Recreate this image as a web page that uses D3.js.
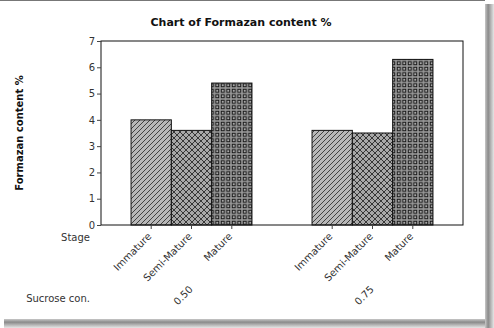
<!DOCTYPE html>
<html>
<head>
<meta charset="utf-8">
<script src="https://cdn.jsdelivr.net/npm/d3@7"></script>
<style>
body { margin: 0; background: #fff; }
text { font-family: "DejaVu Sans", Verdana, sans-serif; }
</style>
</head>
<body>
<svg id="chart" width="494" height="328"></svg>
<script>
'use strict';

// data
var concentrations = ["0.50", "0.75"];
var stages = ["Immature", "Semi-Mature", "Mature"];
var values050 = [4.0, 3.6, 5.4];
var values075 = [3.6, 3.5, 6.3];
var yTicks = [0, 1, 2, 3, 4, 5, 6, 7];

var rows = [];
concentrations.forEach(function(c, i) {
	var vals = i === 0 ? values050 : values075;
	stages.forEach(function(s, j) {
		rows.push({ conc: c, stage: s, value: vals[j] });
	});
});

var svg = d3.select("#chart");
var plotLeft = 101, plotRight = 463, plotTop = 41, plotBottom = 225;

// frame + drop shadow
var defs = svg.append("defs");
var gr = defs.append("linearGradient").attr("id", "shR").attr("x1", 0).attr("x2", 1).attr("y1", 0).attr("y2", 0);
gr.append("stop").attr("offset", "0%").attr("stop-color", "#c8c8c8");
gr.append("stop").attr("offset", "35%").attr("stop-color", "#8a8a8a");
gr.append("stop").attr("offset", "100%").attr("stop-color", "#e6e6e6");
var gb = defs.append("linearGradient").attr("id", "shB").attr("x1", 0).attr("x2", 0).attr("y1", 0).attr("y2", 1);
gb.append("stop").attr("offset", "0%").attr("stop-color", "#c8c8c8");
gb.append("stop").attr("offset", "35%").attr("stop-color", "#8a8a8a");
gb.append("stop").attr("offset", "100%").attr("stop-color", "#e6e6e6");

svg.append("rect").attr("x", 485).attr("y", 4).attr("width", 9).attr("height", 324).attr("fill", "url(#shR)");
svg.append("rect").attr("x", 4).attr("y", 319).attr("width", 481).attr("height", 9).attr("fill", "url(#shB)");
svg.append("line").attr("x1", 0).attr("x2", 485).attr("y1", 0.5).attr("y2", 0.5).attr("stroke", "#777");

// patterns
var p1 = defs.append("pattern").attr("id", "patImm").attr("patternUnits", "userSpaceOnUse")
	.attr("width", 5).attr("height", 5);
p1.append("rect").attr("width", 5).attr("height", 5).attr("fill", "#b8b8b8");
p1.append("path").attr("d", "M-1,6 L6,-1 M-1,1 L1,-1 M4,6 L6,4").attr("stroke", "#333").attr("stroke-width", 0.9);

var p2 = defs.append("pattern").attr("id", "patSemi").attr("patternUnits", "userSpaceOnUse")
	.attr("width", 6).attr("height", 6);
p2.append("rect").attr("width", 6).attr("height", 6).attr("fill", "#a8a8a8");
p2.append("path").attr("d", "M0,0 L6,6 M6,0 L0,6").attr("stroke", "#2a2a2a").attr("stroke-width", 0.9);

var p3 = defs.append("pattern").attr("id", "patMat").attr("patternUnits", "userSpaceOnUse")
	.attr("width", 5.5).attr("height", 5.5);
p3.append("rect").attr("width", 5.5).attr("height", 5.5).attr("fill", "#9a9a9a");
p3.append("rect").attr("x", 1.25).attr("y", 1.25).attr("width", 3).attr("height", 3)
	.attr("fill", "#a8a8a8").attr("stroke", "#1a1a1a").attr("stroke-width", 1);

var fills = { "Immature": "url(#patImm)", "Semi-Mature": "url(#patSemi)", "Mature": "url(#patMat)" };

var x0 = d3.scaleBand().domain(concentrations).range([plotLeft, plotRight]).padding(0);
var x1 = d3.scaleBand().domain(stages).range([0, x0.bandwidth()]).paddingInner(0).paddingOuter(0.745);
var y = d3.scaleLinear().domain([0, 7]).range([plotBottom, plotTop]);

// title
svg.append("text").attr("x", 241).attr("y", 26).attr("text-anchor", "middle")
	.attr("font-size", 11).attr("font-weight", "bold").attr("fill", "#111")
	.text("Chart of Formazan content %");

// bars
svg.append("g").selectAll("rect").data(rows).enter().append("rect")
	.attr("x", function(d) { return x0(d.conc) + x1(d.stage); })
	.attr("y", function(d) { return y(d.value); })
	.attr("width", x1.bandwidth())
	.attr("height", function(d) { return y(0) - y(d.value); })
	.attr("fill", function(d) { return fills[d.stage]; })
	.attr("stroke", "#111").attr("stroke-width", 1);

// plot frame
svg.append("rect").attr("x", plotLeft).attr("y", plotTop).attr("width", plotRight - plotLeft).attr("height", plotBottom - plotTop)
	.attr("fill", "none").attr("stroke", "#111").attr("stroke-width", 1);

// y axis
var yAxis = svg.append("g").attr("transform", "translate(" + plotLeft + ",0)")
	.call(d3.axisLeft(y).tickValues(yTicks).tickSize(4).tickPadding(2).tickFormat(d3.format("d")));
yAxis.select(".domain").remove();
yAxis.selectAll("line").attr("stroke", "#444");
yAxis.selectAll("text").attr("font-size", 10).attr("fill", "#333")
	.style("font-family", "'DejaVu Sans', sans-serif");

svg.append("text").attr("transform", "translate(23," + ((plotTop + plotBottom) / 2) + ") rotate(-90)")
	.attr("text-anchor", "middle").attr("font-size", 10).attr("font-weight", "bold").attr("fill", "#111")
	.text("Formazan content %");

// x category ticks and labels
var cx = function(d) { return x0(d.conc) + x1(d.stage) + x1.bandwidth() / 2; };
svg.append("g").selectAll("line").data(rows).enter().append("line")
	.attr("x1", cx).attr("x2", cx).attr("y1", plotBottom).attr("y2", plotBottom + 4)
	.attr("stroke", "#444");
svg.append("g").selectAll("text").data(rows).enter().append("text")
	.attr("transform", function(d) { return "translate(" + (cx(d) + 1) + "," + (plotBottom + 12) + ") rotate(-45)"; })
	.attr("text-anchor", "end").attr("font-size", 10).attr("fill", "#333")
	.text(function(d) { return d.stage; });

svg.append("g").selectAll("text").data(concentrations).enter().append("text")
	.attr("transform", function(c) { return "translate(" + (x0(c) + x0.bandwidth() / 2 + 2) + ",290) rotate(-45)"; })
	.attr("text-anchor", "end").attr("font-size", 10).attr("fill", "#333")
	.text(function(c) { return c; });

svg.append("text").attr("x", 90).attr("y", 241).attr("text-anchor", "end")
	.attr("font-size", 10).attr("fill", "#333").text("Stage");
svg.append("text").attr("x", 90).attr("y", 302).attr("text-anchor", "end")
	.attr("font-size", 10).attr("fill", "#333").text("Sucrose con.");
</script>
</body>
</html>
